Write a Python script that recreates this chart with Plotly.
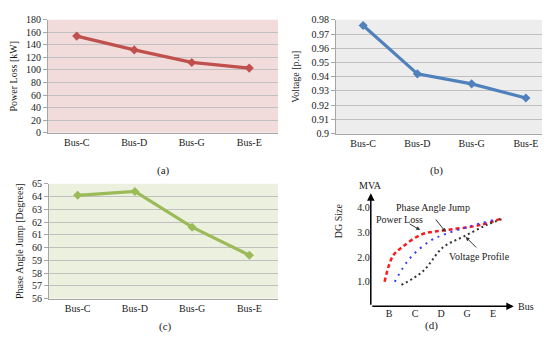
import plotly.graph_objects as go

# ---------------- data ----------------
buses = ["Bus-C", "Bus-D", "Bus-G", "Bus-E"]
power_loss_kw = [154, 132, 112, 103]
voltage_pu = [0.976, 0.942, 0.935, 0.925]
phase_angle_deg = [64.1, 64.4, 61.6, 59.4]

# panel (d): schematic DG size curves (x = bus position, 1=B ... 5=E)
d_tick_pos = [1, 2, 3, 4, 5]
d_tick_text = ["B", "C", "D", "G", "E"]
d_yticks = [1, 2, 3, 4]
d_ytick_text = ["1.0", "2.0", "3.0", "4.0"]
loss_x = [0.83, 1.15, 1.5, 2.25, 3.2, 4.5, 5.4]
loss_y = [1.0, 2.05, 2.4, 2.92, 3.1, 3.3, 3.6]
paj_x = [1.22, 1.8, 2.57, 3.2, 4.1, 5.0]
paj_y = [1.0, 1.95, 2.65, 2.95, 3.25, 3.5]
vp_x = [1.48, 2.3, 3.08, 3.9, 4.74, 5.4]
vp_y = [0.87, 1.42, 2.4, 2.85, 3.3, 3.57]

W, H = 550, 341
FONT = "Liberation Serif"
GRID = "#c0c0c0"
TXT = "#1a1a1a"
FS = 10


def px(x):
    return x / W


def py(y):
    return 1 - y / H


fig = go.Figure()

fig.add_trace(go.Scatter(x=buses, y=power_loss_kw, mode="lines+markers",
                         line=dict(color="#c0504d", width=3.2),
                         marker=dict(symbol="diamond", size=7, color="#c0504d"),
                         xaxis="x", yaxis="y", showlegend=False))
fig.add_trace(go.Scatter(x=buses, y=voltage_pu, mode="lines+markers",
                         line=dict(color="#4f81bd", width=3.2),
                         marker=dict(symbol="diamond", size=7, color="#4f81bd"),
                         xaxis="x2", yaxis="y2", showlegend=False))
fig.add_trace(go.Scatter(x=buses, y=phase_angle_deg, mode="lines+markers",
                         line=dict(color="#9bbb59", width=3.2),
                         marker=dict(symbol="diamond", size=7, color="#9bbb59"),
                         xaxis="x3", yaxis="y3", showlegend=False))

fig.add_trace(go.Scatter(x=loss_x, y=loss_y, mode="lines", line_shape="spline",
                         line=dict(color="#ff1a1a", width=2.5, dash="4px,3px"),
                         xaxis="x4", yaxis="y4", showlegend=False))
fig.add_trace(go.Scatter(x=paj_x, y=paj_y, mode="lines", line_shape="spline",
                         line=dict(color="#3a3aff", width=2, dash="2px,5px"),
                         xaxis="x4", yaxis="y4", showlegend=False))
fig.add_trace(go.Scatter(x=vp_x, y=vp_y, mode="lines", line_shape="spline",
                         line=dict(color="#333333", width=2, dash="2px,3px"),
                         xaxis="x4", yaxis="y4", showlegend=False))

tickfont = dict(family=FONT, size=FS, color=TXT)


def cat_x(domain):
    return dict(domain=domain, anchor=None, showgrid=False, ticks="",
                showline=True, linecolor="#a6a6a6", linewidth=1,
                tickfont=tickfont, range=[-0.5, 3.5], fixedrange=True)


def val_y(domain, rng, dtick, title, standoff):
    return dict(domain=domain, range=rng, dtick=dtick, showgrid=True,
                gridcolor=GRID, gridwidth=1, zeroline=False,
                showline=True, linecolor="#a6a6a6", ticks="outside",
                ticklen=4, tickcolor="#a6a6a6", tickfont=tickfont,
                title=dict(text=title, font=dict(family=FONT, size=FS, color=TXT),
                           standoff=standoff))


xa = cat_x([px(40), px(270)]); xa["anchor"] = "y"
xb = cat_x([px(328), px(545)]); xb["anchor"] = "y2"
xc = cat_x([px(41), px(270)]); xc["anchor"] = "y3"

ya = val_y([py(123), py(6)], [0, 180], 20, "Power Loss [kW]", 6); ya["anchor"] = "x"
yb = val_y([py(124), py(6)], [0.9, 0.98], 0.01, "Voltage [p.u]", 9); yb["anchor"] = "x2"
yb["tickformat"] = ".2~f"
yc = val_y([py(295), py(176)], [56, 65], 1, "Phase Angle Jump [Degrees]", 6); yc["anchor"] = "x3"

xd = dict(domain=[px(362.8), px(505.8)], range=[0.3, 5.8], anchor="y4",
          showgrid=False, zeroline=False, showline=False, ticks="",
          tickvals=d_tick_pos, ticktext=d_tick_text, tickfont=tickfont,
          fixedrange=True)
yd = dict(domain=[py(303), py(303 - 4.6 * 25.5)], range=[0, 4.6], anchor="x4",
          showgrid=False, zeroline=False, showline=False, ticks="",
          tickvals=d_yticks, ticktext=d_ytick_text, tickfont=tickfont,
          fixedrange=True)

lab = dict(family=FONT, size=FS + 1, color=TXT)
annotations = [
    dict(text="(a)", x=px(147), y=py(162), xref="paper", yref="paper",
         showarrow=False, font=lab),
    dict(text="(b)", x=px(437), y=py(162), xref="paper", yref="paper",
         showarrow=False, font=lab),
    dict(text="(c)", x=px(149), y=py(333), xref="paper", yref="paper",
         showarrow=False, font=lab),
    dict(text="(d)", x=px(432), y=py(332), xref="paper", yref="paper",
         showarrow=False, font=lab),
    # axes arrows of panel (d)
    dict(x=5.8, y=0, ax=0.3, ay=0, xref="x4", yref="y4", axref="x4", ayref="y4",
         text="", showarrow=True, arrowhead=2, arrowsize=1, arrowwidth=1.5,
         arrowcolor="#000000"),
    dict(x=0.3, y=4.6, ax=0.3, ay=0, xref="x4", yref="y4", axref="x4", ayref="y4",
         text="", showarrow=True, arrowhead=2, arrowsize=1, arrowwidth=1.5,
         arrowcolor="#000000"),
    dict(text="MVA", x=px(362), y=py(178), xref="paper", yref="paper",
         showarrow=False, font=dict(family=FONT, size=FS, color=TXT)),
    dict(text="Bus", x=5.8, y=0, xref="x4", yref="y4", xanchor="left",
         yanchor="middle", xshift=2,
         showarrow=False, font=dict(family=FONT, size=FS, color=TXT)),
    dict(text="DG Size", x=px(330), y=py(235), xref="paper", yref="paper",
         textangle=-90, showarrow=False, font=dict(family=FONT, size=FS, color=TXT)),
    # curve labels
    dict(text="Phase Angle Jump", x=2.69, y=4.01, xref="x4", yref="y4",
         showarrow=False, font=dict(family=FONT, size=FS, color=TXT)),
    dict(text="", x=3.18, y=3.02, ax=-11, ay=-14, xref="x4", yref="y4",
         showarrow=True, arrowhead=2, arrowsize=0.8, arrowwidth=1, arrowcolor="#333333"),
    dict(text="Power Loss", x=1.41, y=3.54, xref="x4", yref="y4",
         showarrow=False, font=dict(family=FONT, size=FS, color=TXT)),
    dict(text="", x=2.2, y=3.1, ax=-12, ay=-7, xref="x4", yref="y4",
         showarrow=True, arrowhead=2, arrowsize=0.8, arrowwidth=1, arrowcolor="#333333"),
    dict(text="Voltage Profile", x=4.49, y=2.01, xref="x4", yref="y4",
         showarrow=False, font=dict(family=FONT, size=FS, color=TXT)),
    dict(text="", x=3.95, y=2.82, ax=12, ay=12, xref="x4", yref="y4",
         showarrow=True, arrowhead=2, arrowsize=0.8, arrowwidth=1, arrowcolor="#333333"),
]

shapes = [
    dict(type="rect", xref="x domain", yref="y domain", x0=0, x1=1, y0=0, y1=1,
         fillcolor="#f2dcdb", line_width=0, layer="below"),
    dict(type="rect", xref="x2 domain", yref="y2 domain", x0=0, x1=1, y0=0, y1=1,
         fillcolor="#ededed", line_width=0, layer="below"),
    dict(type="rect", xref="x3 domain", yref="y3 domain", x0=0, x1=1, y0=0, y1=1,
         fillcolor="#ebf1de", line_width=0, layer="below"),
]

fig.update_layout(
    width=W, height=H, margin=dict(l=0, r=0, t=0, b=0),
    paper_bgcolor="#ffffff", plot_bgcolor="rgba(0,0,0,0)",
    xaxis=xa, yaxis=ya, xaxis2=xb, yaxis2=yb, xaxis3=xc, yaxis3=yc,
    xaxis4=xd, yaxis4=yd,
    annotations=annotations, shapes=shapes,
    font=dict(family=FONT, size=FS, color=TXT),
)

fig.write_html("out.html")
